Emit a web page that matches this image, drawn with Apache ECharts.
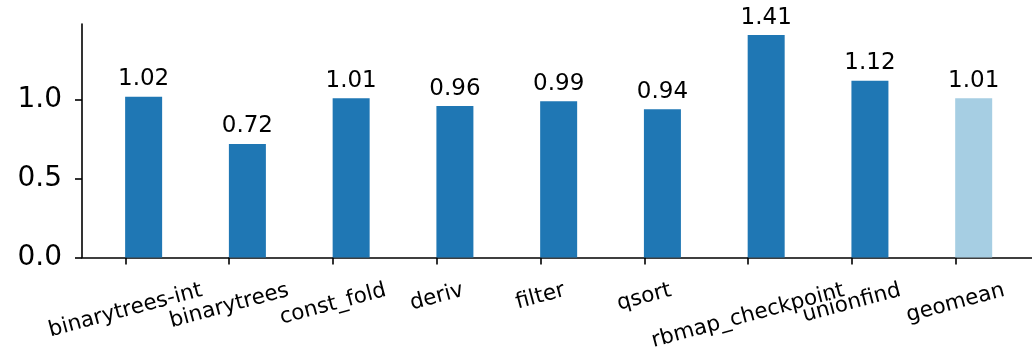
<!DOCTYPE html>
<html>
<head>
<meta charset="utf-8">
<script src="https://cdn.jsdelivr.net/npm/echarts@6/dist/echarts.min.js"></script>
<style>
  html, body { margin: 0; padding: 0; background: #fff; }
  #chart { width: 1032px; height: 349px; }
</style>
</head>
<body>
<div id="chart"></div>
<script>
  const categories = ['binarytrees-int', 'binarytrees', 'const_fold', 'deriv', 'filter', 'qsort', 'rbmap_checkpoint', 'unionfind', 'geomean'];
  const speedups = [1.02, 0.72, 1.01, 0.96, 0.99, 0.94, 1.41, 1.12, 1.01];
  const barColors = ['#1f77b4', '#1f77b4', '#1f77b4', '#1f77b4', '#1f77b4', '#1f77b4', '#1f77b4', '#1f77b4', '#a6cee3'];
  const yTicks = [0, 0.5, 1.0];

  // bars sit on the right of their tick (matplotlib align='edge', width 0.35)
  const BAR_SHIFT = 0.175;
  const FONT = '"DejaVu Sans", sans-serif';
  const ROT = 15;
  const XFONT = 21.5;

  const positions = categories.map((c, i) => i);
  const barData = speedups.map((v, i) => ({
    value: [i + BAR_SHIFT, v],
    itemStyle: { color: barColors[i] }
  }));

  // rotated labels: keep the top of each rotated box on one line, like matplotlib does
  const ctx = document.createElement('canvas').getContext('2d');
  ctx.font = XFONT + 'px ' + FONT;
  const th = ROT * Math.PI / 180;
  const boxTop = 21, lineH = 24;
  const centers = categories.map(c => {
    const w = ctx.measureText(c).width;
    return boxTop + (w * Math.sin(th) + lineH * Math.cos(th)) / 2;
  });
  const margin = Math.min(...centers);
  const rich = {};
  categories.forEach((c, i) => {
    const d = centers[i] - margin;
    rich['t' + i] = {
      fontSize: XFONT,
      fontFamily: FONT,
      color: '#000',
      padding: [2 * d * Math.cos(th), 2 * d * Math.sin(th), 0, 0]
    };
  });

  const chart = echarts.init(document.getElementById('chart'));
  chart.setOption({
    animation: false,
    grid: { left: 82, right: 0, top: 24, bottom: 91.5, containLabel: false, outerBoundsMode: 'none' },
    xAxis: {
      type: 'value',
      min: -0.419,
      max: 8.737,
      splitLine: { show: false },
      axisLine: { show: true, onZero: false, lineStyle: { color: '#000', width: 1.6 } },
      axisTick: { show: true, length: 7, customValues: positions, lineStyle: { color: '#000', width: 1.6 } },
      axisLabel: {
        customValues: positions,
        rotate: ROT,
        align: 'center',
        verticalAlign: 'middle',
        margin: margin,
        formatter: v => {
          const i = Math.round(v);
          return '{t' + i + '|' + categories[i] + '}';
        },
        rich: rich
      }
    },
    yAxis: {
      type: 'value',
      min: 0,
      max: 1.4805,
      splitLine: { show: false },
      axisLine: { show: true, onZero: false, lineStyle: { color: '#000', width: 1.6 } },
      axisTick: { show: true, length: 7, customValues: yTicks, lineStyle: { color: '#000', width: 1.6 } },
      axisLabel: {
        customValues: yTicks,
        color: '#000',
        fontSize: 28,
        fontFamily: FONT,
        margin: 20,
        formatter: v => v.toFixed(1)
      }
    },
    series: [{
      type: 'bar',
      barWidth: 37,
      data: barData,
      label: {
        show: true,
        position: 'top',
        distance: 6,
        color: '#000',
        fontSize: 23,
        fontFamily: FONT,
        formatter: p => p.value[1].toFixed(2)
      }
    }]
  });
</script>
</body>
</html>
